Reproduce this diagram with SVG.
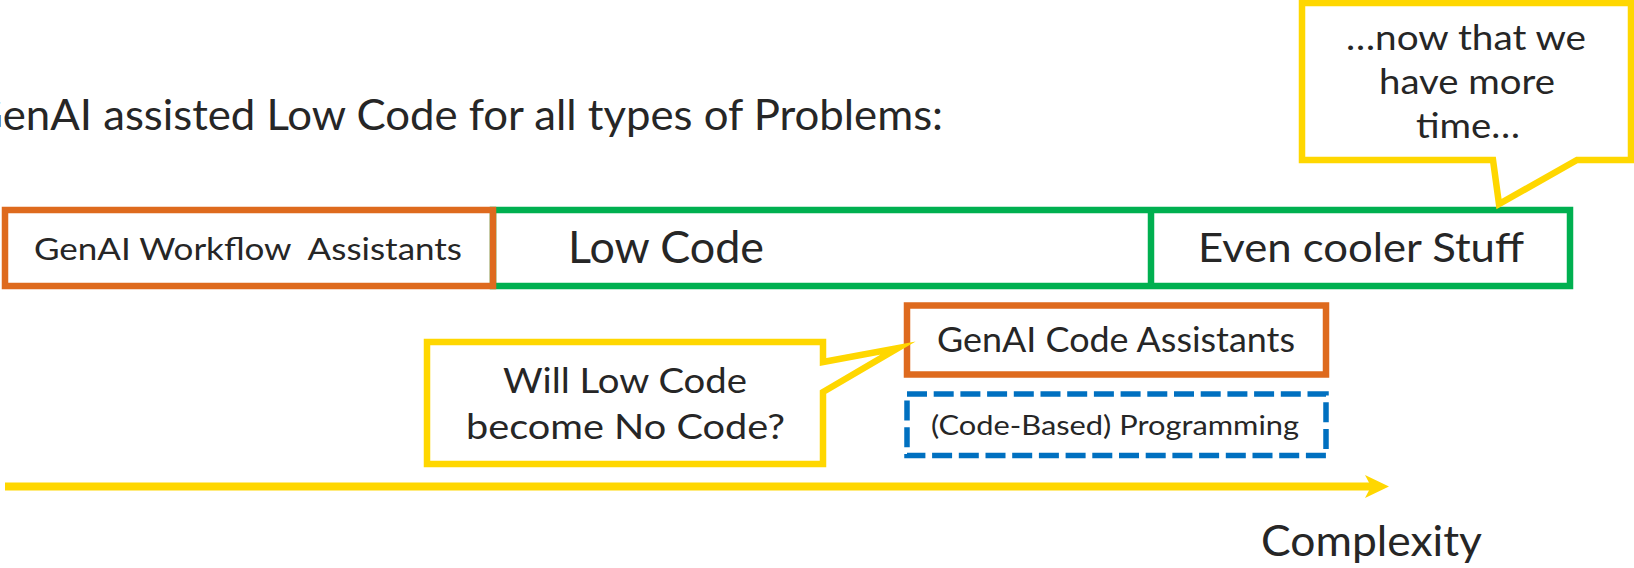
<svg xmlns="http://www.w3.org/2000/svg" width="1634" height="568" viewBox="0 0 1634 568">
<style>
  text { font-family: Lato, "Open Sans", "Liberation Sans", sans-serif; fill: #262626; white-space: pre; }
  .box { fill: none; stroke-width: 6.5; }
  .orange { stroke: #DE6A1E; }
  .green { stroke: #00B050; }
  .yellow { fill: #FFFFFF; stroke: #FFD700; stroke-width: 6.5; stroke-miterlimit: 10; }
  .dashed { fill: none; stroke: #0070C0; stroke-width: 5.5; stroke-dasharray: 20 6.7; }
</style>
<defs>
  <marker id="arrowhead" markerUnits="userSpaceOnUse" viewBox="0 0 24 23" markerWidth="24" markerHeight="23" refX="6" refY="11.5" orient="auto">
    <path d="M0,0 L24,11.5 L0,23 L6,11.5 Z" fill="#FFD700"/>
  </marker>
</defs>
<rect width="1634" height="568" fill="#FFFFFF"/>

<g id="title">
  <text x="-29" y="130" font-size="42" textLength="972" lengthAdjust="spacingAndGlyphs">GenAI assisted Low Code for all types of Problems:</text>
</g>

<g id="low-code">
  <rect class="box green" x="493" y="210" width="1077" height="76"/>
  <text x="568" y="263" font-size="44" textLength="196" lengthAdjust="spacingAndGlyphs">Low Code</text>
</g>

<g id="even-cooler-stuff">
  <line x1="1151" y1="210" x2="1151" y2="286" stroke="#00B050" stroke-width="6.5"/>
  <text x="1198" y="262" font-size="41" textLength="326" lengthAdjust="spacingAndGlyphs">Even cooler Stuff</text>
</g>

<g id="genai-workflow-assistants">
  <rect class="box orange" x="5" y="210" width="488" height="76"/>
  <text x="34" y="259.5" font-size="31" textLength="428" lengthAdjust="spacingAndGlyphs">GenAI Workflow  Assistants</text>
</g>

<g id="callout-time">
  <path class="yellow" d="M1302,3 H1631 V160 H1577 L1499,204 L1493,160 H1302 Z"/>
  <text x="1346" y="50" font-size="35" textLength="240" lengthAdjust="spacingAndGlyphs">…now that we</text>
  <text x="1379" y="94" font-size="35" textLength="176" lengthAdjust="spacingAndGlyphs">have more</text>
  <text x="1416" y="138" font-size="35" textLength="104" lengthAdjust="spacingAndGlyphs">time…</text>
</g>

<g id="genai-code-assistants">
  <rect class="box orange" x="907" y="305.5" width="419" height="69"/>
  <text x="937" y="352" font-size="34" textLength="358" lengthAdjust="spacingAndGlyphs">GenAI Code Assistants</text>
</g>

<g id="code-based-programming">
  <rect class="dashed" x="907" y="394" width="419" height="61.5"/>
  <text x="931" y="435" font-size="27" textLength="368" lengthAdjust="spacingAndGlyphs">(Code-Based) Programming</text>
</g>

<g id="callout-no-code">
  <path class="yellow" d="M427,342 H823 V362 L898,348 L823,392 V464 H427 Z"/>
  <text x="503" y="393" font-size="35" textLength="244" lengthAdjust="spacingAndGlyphs">Will Low Code</text>
  <text x="466" y="438.5" font-size="35" textLength="319" lengthAdjust="spacingAndGlyphs">become No Code?</text>
</g>

<g id="connectors">
  <line x1="5" y1="486.5" x2="1371" y2="486.5" stroke="#FFD700" stroke-width="8" marker-end="url(#arrowhead)"/>
</g>

<g id="complexity-label">
  <text x="1261" y="556" font-size="42" textLength="221" lengthAdjust="spacingAndGlyphs">Complexity</text>
</g>
</svg>
